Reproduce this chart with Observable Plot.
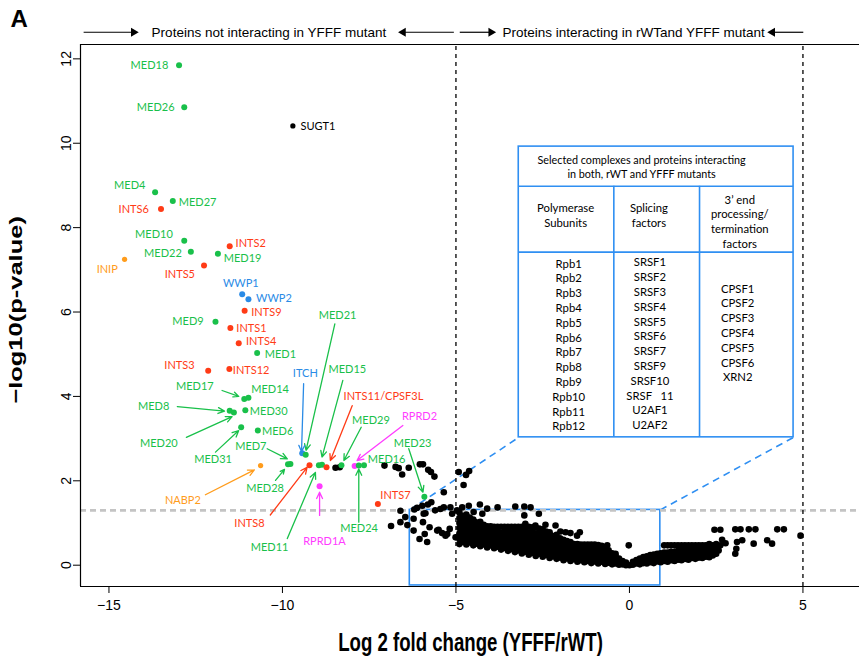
<!DOCTYPE html>
<html><head><meta charset="utf-8">
<script src="https://cdn.jsdelivr.net/npm/d3@7"></script>
<script src="https://cdn.jsdelivr.net/npm/@observablehq/plot@0.6"></script>
<style>body{margin:0;background:#fff}#chart{width:859px;height:657px}</style>
</head><body><div id="chart"></div>
<script>
// ---------- labelled proteins ----------
const proteins = ["MED18","MED26","SUGT1","MED4","MED27","INTS6","MED10","INTS2","MED22","MED19","INIP","INTS5","WWP1","WWP2","INTS9","MED9","INTS1","INTS4","MED1","INTS3","INTS12","MED17","MED14","MED8","MED20","MED30","MED31","MED6","MED28","MED7","NABP2","ITCH","MED21","INTS8","MED11","MED15","INTS11/CPSF3L","MED29","RPRD1A","RPRD2","MED24","MED16","MED23","INTS7"];
const log2FC = [-12.98,-12.83,-9.70,-13.67,-13.16,-13.50,-12.83,-11.52,-12.64,-11.86,-14.55,-12.26,-11.16,-10.98,-11.09,-11.93,-11.50,-11.26,-10.73,-12.14,-11.53,-11.10,-10.98,-11.52,-11.40,-11.07,-11.19,-10.71,-9.84,-9.77,-10.63,-9.43,-9.33,-9.22,-8.95,-8.86,-8.73,-8.30,-8.93,-7.92,-7.80,-7.65,-5.91,-7.25];
const negLog10P = [11.85,10.85,10.41,8.84,8.63,8.44,7.69,7.56,7.43,7.38,7.25,7.10,6.42,6.30,6.03,5.77,5.62,5.26,5.03,4.61,4.65,3.94,3.97,3.66,3.62,3.67,3.27,3.19,2.39,2.40,2.36,2.65,2.62,2.37,2.37,2.38,2.32,2.37,1.87,2.35,2.36,2.37,1.62,1.45];
const complexes = ["Mediator","Mediator","Other","Mediator","Mediator","Integrator","Mediator","Integrator","Mediator","Mediator","SOSS","Integrator","HECT","HECT","Integrator","Mediator","Integrator","Integrator","Mediator","Integrator","Integrator","Mediator","Mediator","Mediator","Mediator","Mediator","Mediator","Mediator","Mediator","Mediator","SOSS","HECT","Mediator","Integrator","Mediator","Mediator","Integrator","Mediator","RPRD","RPRD","Mediator","Mediator","Mediator","Integrator"];
const complexNames = ["Mediator","Integrator","HECT","SOSS","RPRD","Other"];
const complexColors = ["#19c04a","#ff3b16","#2a8be6","#ff9c1c","#ff3cff","#000000"];

// ---------- all other proteins (black) ----------
const otherPoints = [
 [-8.47,2.31],[-8.35,2.32],[-7.06,2.36],[-6.74,2.33],[-6.65,2.30],[-6.55,2.15],[-6.36,2.31],[-6.04,2.39],[-5.95,2.39],[-5.80,2.26],[-5.72,2.21],[-5.62,2.10],[-5.35,1.73],[-4.92,2.21],[-4.71,2.14],[-4.62,2.23],[-4.78,1.90],
 [-6.60,1.29],[-6.87,0.93],[-6.60,1.02],[-6.46,1.14],[-6.20,1.32],[-6.22,1.10],[-6.12,1.36],[-5.97,1.41],[-5.81,1.44],[-5.95,1.02],[-5.90,0.74],[-5.83,0.55],[-5.76,0.90],[-5.93,1.22],[-5.71,1.49],[-5.88,1.23],[-6.22,0.82],[-6.05,0.62],[-6.40,0.95],
 [-5.54,0.82],[-5.50,0.84],[-5.40,0.76],[-5.30,0.70],[-5.25,0.74],[-5.18,0.86],[-5.01,0.66],[-4.87,0.63],[-5.35,1.37],[-5.16,1.37],[-5.11,1.22],[-4.97,1.30],[-4.82,1.37],[-4.63,1.41],[-4.49,1.26],[-4.31,1.44],[-4.24,1.22],[-4.10,1.34],[-3.80,1.37],[-3.29,1.39],[-3.03,1.39],[-2.85,1.37],[-3.03,1.18],[-2.61,1.22],[-3.00,0.98],[-2.71,0.94],[-2.42,0.96],[-2.13,0.94],[-1.99,0.80],[-1.84,0.78],[-1.70,0.76],[-1.43,0.78],[-1.51,0.70],[-2.23,0.66],[-0.64,0.47],[-0.02,0.47],[-0.40,0.27],[-4.58,0.98],[-4.44,1.02],[-4.39,0.82],[-4.29,0.90],[-4.10,0.74],[-4.24,0.59],[-5.60,1.30],[-5.45,1.33],
 [2.45,0.84],[2.62,0.84],[3.05,0.85],[3.20,0.85],[3.44,0.85],[3.63,0.85],[4.26,0.85],[4.45,0.85],[4.93,0.70],[2.67,0.60],[2.77,0.52],[2.62,0.47],[2.57,0.35],[2.45,0.27],[3.10,0.55],[3.25,0.59],[3.08,0.39],[3.05,0.27],[3.58,0.51],[3.97,0.59],[4.11,0.51]
];
// dense cloud read column by column: [log2FC, [-log10 p values]]
const cloudColumns = [
 [-4.9,[0.50,0.62,0.75,0.88,1.00,1.12,1.25]],
 [-4.8,[0.55,0.68,0.80,0.93,1.05,1.17]],
 [-4.7,[0.49,0.61,0.74,0.86,0.98,1.10,1.20]],
 [-4.6,[0.54,0.66,0.79,0.91,1.03,1.13]],
 [-4.5,[0.47,0.59,0.72,0.84,0.96,1.08]],
 [-4.4,[0.51,0.64,0.76,0.88,0.99]],
 [-4.3,[0.45,0.57,0.70,0.82,0.94,1.03]],
 [-4.2,[0.49,0.61,0.74,0.86,0.96]],
 [-4.1,[0.42,0.55,0.68,0.80,0.92]],
 [-4.0,[0.47,0.59,0.72,0.84,0.92]],
 [-3.9,[0.40,0.52,0.65,0.78,0.91]],
 [-3.8,[0.44,0.57,0.70,0.83,0.91]],
 [-3.7,[0.37,0.50,0.63,0.76,0.91]],
 [-3.6,[0.41,0.54,0.67,0.80,0.91]],
 [-3.5,[0.34,0.47,0.60,0.73,0.86,0.91]],
 [-3.4,[0.38,0.51,0.64,0.77,0.91]],
 [-3.3,[0.31,0.44,0.57,0.70,0.83,0.91]],
 [-3.2,[0.35,0.48,0.61,0.74,0.86,0.91]],
 [-3.1,[0.28,0.41,0.54,0.67,0.80,0.91]],
 [-3.0,[0.32,0.45,0.58,0.71,0.84,0.91]],
 [-2.9,[0.25,0.38,0.51,0.64,0.77,0.91]],
 [-2.8,[0.29,0.42,0.55,0.68,0.81,0.90]],
 [-2.7,[0.22,0.35,0.48,0.61,0.74,0.89]],
 [-2.6,[0.27,0.39,0.52,0.65,0.78,0.87]],
 [-2.5,[0.20,0.32,0.45,0.58,0.71,0.85]],
 [-2.4,[0.24,0.36,0.49,0.62,0.75,0.80]],
 [-2.3,[0.17,0.30,0.42,0.55,0.68,0.78]],
 [-2.2,[0.21,0.33,0.45,0.57,0.69]],
 [-2.1,[0.15,0.27,0.39,0.51,0.63,0.72]],
 [-2.0,[0.18,0.30,0.42,0.54,0.64]],
 [-1.9,[0.12,0.24,0.36,0.48,0.60]],
 [-1.8,[0.16,0.28,0.40,0.51,0.57]],
 [-1.7,[0.10,0.22,0.34,0.46,0.55]],
 [-1.6,[0.14,0.26,0.37,0.47,0.50]],
 [-1.5,[0.08,0.20,0.31,0.42,0.50]],
 [-1.4,[0.12,0.23,0.34,0.45,0.49]],
 [-1.3,[0.07,0.18,0.29,0.40,0.49]],
 [-1.2,[0.10,0.21,0.32,0.43,0.49]],
 [-1.1,[0.05,0.16,0.27,0.38,0.49]],
 [-1.0,[0.09,0.20,0.31,0.42,0.49]],
 [-0.9,[0.04,0.14,0.25,0.36,0.48]],
 [-0.8,[0.08,0.18,0.29,0.39,0.46]],
 [-0.7,[0.03,0.12,0.22,0.32,0.42]],
 [-0.6,[0.06,0.15,0.25,0.35]],
 [-0.5,[0.02,0.10,0.19,0.28]],
 [-0.4,[0.04,0.13,0.22]],
 [-0.3,[0.01,0.08,0.16]],
 [-0.2,[0.02,0.10]],
 [-0.1,[0.00,0.06]],
 [0.0,[0.00]],
 [0.1,[0.01,0.08]],
 [0.2,[0.04,0.12]],
 [0.3,[0.02,0.10,0.16]],
 [0.4,[0.05,0.13,0.19]],
 [0.5,[0.04,0.13,0.21]],
 [0.6,[0.07,0.16,0.24]],
 [0.7,[0.05,0.15,0.25]],
 [0.8,[0.09,0.18,0.27]],
 [0.9,[0.07,0.17,0.28]],
 [1.0,[0.10,0.20,0.30,0.47]],
 [1.1,[0.08,0.19,0.30,0.47]],
 [1.2,[0.12,0.22,0.32,0.47]],
 [1.3,[0.10,0.21,0.32,0.47]],
 [1.4,[0.13,0.24,0.34,0.47]],
 [1.5,[0.12,0.23,0.34,0.47]],
 [1.6,[0.15,0.26,0.36,0.47]],
 [1.7,[0.13,0.25,0.36,0.47]],
 [1.8,[0.17,0.27,0.38,0.47]],
 [1.9,[0.15,0.27,0.38,0.47]],
 [2.0,[0.18,0.29,0.40,0.47]],
 [2.1,[0.17,0.29,0.40,0.47]],
 [2.2,[0.20,0.31,0.42,0.47]],
 [2.3,[0.19,0.31,0.43,0.50]],
 [2.4,[0.23,0.35,0.47]],
 [2.5,[0.27,0.38,0.50]]
];

// ---------- annotations ----------
const labelPlacement = [
 ["MED18",-13.29,11.84,"end"],["MED26",-13.11,10.84,"end"],["SUGT1",-9.48,10.39,"start"],["MED4",-13.95,9.00,"end"],
 ["MED27",-12.99,8.59,"start"],["INTS6",-13.85,8.42,"end"],["MED10",-13.16,7.84,"end"],["INTS2",-11.35,7.62,"start"],
 ["MED22",-12.90,7.39,"end"],["MED19",-11.69,7.27,"start"],["INIP",-15.05,7.00,"middle"],["INTS5",-12.52,6.88,"end"],
 ["WWP1",-11.20,6.68,"middle"],["WWP2",-10.76,6.32,"start"],["INTS9",-10.90,6.00,"start"],["MED9",-12.27,5.77,"end"],
 ["INTS1",-11.33,5.62,"start"],["INTS4",-11.05,5.31,"start"],["MED1",-10.51,4.99,"start"],["INTS3",-12.53,4.74,"end"],
 ["INTS12",-11.43,4.61,"start"],["MED21",-8.41,5.92,"middle"],["MED15",-8.13,4.63,"middle"],["ITCH",-9.34,4.55,"middle"],
 ["MED17",-11.98,4.23,"end"],["MED14",-10.90,4.16,"start"],["MED8",-13.26,3.76,"end"],["MED30",-10.94,3.65,"start"],
 ["MED20",-13.02,2.89,"end"],["MED6",-10.59,3.18,"start"],["MED7",-10.46,2.81,"end"],["MED31",-12.00,2.50,"middle"],
 ["NABP2",-12.87,1.53,"middle"],["MED28",-10.50,1.83,"middle"],["INTS11/CPSF3L",-7.09,4.00,"middle"],["MED29",-7.45,3.43,"middle"],
 ["RPRD2",-6.05,3.53,"middle"],["MED16",-7.54,2.50,"start"],["MED23",-6.25,2.89,"middle"],["INTS7",-7.18,1.65,"start"],
 ["MED24",-7.79,0.88,"middle"],["RPRD1A",-8.79,0.56,"middle"],["MED11",-10.37,0.41,"middle"],["INTS8",-10.95,1.00,"middle"]
];
const pointerArrows = [
 ["MED21",-8.49,5.72,-9.32,2.72],["MED15",-8.26,4.38,-8.86,2.56],["ITCH",-9.39,4.30,-9.45,2.69],
 ["INTS11/CPSF3L",-7.99,3.78,-8.62,2.48],["MED29",-7.73,3.27,-8.23,2.48],["RPRD2",-6.53,3.31,-7.85,2.48],
 ["MED23",-6.36,2.76,-5.95,1.73],["MED24",-7.80,1.02,-7.80,2.28],["RPRD1A",-8.93,1.18,-8.93,1.73],
 ["MED11",-9.86,0.63,-9.05,2.20],["INTS8",-10.35,1.19,-9.29,2.32],["MED8",-13.03,3.76,-11.67,3.65],
 ["MED20",-12.77,3.03,-11.45,3.52],["MED17",-11.74,4.14,-11.26,4.00],["MED31",-11.93,2.68,-11.26,3.19],
 ["MED7",-10.44,2.76,-9.86,2.52],["NABP2",-12.22,1.67,-10.81,2.26],["MED28",-10.20,2.01,-9.94,2.27]
];
const tableTitle = ["Selected complexes and proteins interacting","in both, rWT and YFFF mutants"];
const tableHeads = [["Polymerase","Subunits"],["Splicing","factors"],["3\u2019 end","processing/","termination","factors"]];
const polymeraseSubunits = ["Rpb1","Rpb2","Rpb3","Rpb4","Rpb5","Rpb6","Rpb7","Rpb8","Rpb9","Rpb10","Rpb11","Rpb12"];
const splicingFactors = ["SRSF1","SRSF2","SRSF3","SRSF4","SRSF5","SRSF6","SRSF7","SRSF9","SRSF10","SRSF\u00a0\u00a0\u00a011","U2AF1","U2AF2"];
const terminationFactors = ["CPSF1","CPSF2","CPSF3","CPSF4","CPSF5","CPSF6","XRN2"];
const tableEdgesX = [-3.19,-0.45,2.02,4.73];
const tableEdgesY = [9.92,8.98,7.42,3.03];
const zoomBox = {x1:-6.33,x2:0.89,y1:-0.48,y2:1.31};
const headerTexts = [["Proteins not interacting in YFFF mutant",-10.39],["Proteins interacting in rWTand YFFF mutant",0.12]];
const headerArrows = [[-15.73,-14.29],[-5.06,-6.52],[-4.89,-3.99],[5.01,4.12]];
const xTicks = [-15,-10,-5,0,5];
const yTicks = [0,2,4,6,8,10,12];
const pThreshold = 1.3;
const foldBounds = [-5,5];
const xTitle = "Log 2 fold change (YFFF/rWT)";
const yTitle = "\u2212log10(p-value)";

// ---------- build tables ----------
const labelled = proteins.map((p,i)=>({name:p,x:log2FC[i],y:negLog10P[i],group:complexes[i]}));
const byName = new Map(labelled.map(d=>[d.name,d]));
const cloud = [];
for (const [x,ys] of cloudColumns) for (const y of ys) cloud.push({x,y});
for (const [x,y] of otherPoints) cloud.push({x,y});
const labels = labelPlacement.map(([n,x,y,a])=>({name:n,x,y,anchor:a,group:byName.get(n).group}));
const arrows = pointerArrows.map(([n,x1,y1,x2,y2])=>({x1,y1,x2,y2,group:byName.get(n).group}));
const colorOf = g => complexColors[complexNames.indexOf(g)];
const blue = "#2f8ff2";
const labelFont = "Lato, 'Open Sans', sans-serif";
const boldFont = "'Liberation Sans', Arial, sans-serif";
const xDomain=[-15.82,6.63], yDomain=[-0.505,12.34];
const headY = 12.63;

const plot = Plot.plot({
  width: 859, height: 657,
  marginLeft: 80, marginRight: 0, marginTop: 44, marginBottom: 71,
  x: {domain: xDomain}, y: {domain: yDomain},
  style: {fontFamily: "'Liberation Sans', Arial, sans-serif", background: "white"},
  marks: [
    // table
    Plot.rect([{}], {x1: tableEdgesX[0], x2: tableEdgesX[3], y1: tableEdgesY[3], y2: tableEdgesY[0], fill: "white", stroke: blue, strokeWidth: 1.6}),
    Plot.ruleY(tableEdgesY.slice(1,3), {x1: tableEdgesX[0], x2: tableEdgesX[3], stroke: blue, strokeWidth: 1.6}),
    Plot.ruleX(tableEdgesX.slice(1,3), {y1: tableEdgesY[3], y2: tableEdgesY[1], stroke: blue, strokeWidth: 1.6}),
    Plot.text([tableTitle.join("\n")], {x: 0.35, y: 9.44, text: d=>d, fontFamily: labelFont, fontSize: 10.8, lineHeight: 1.3}),
    Plot.text(tableHeads, {x: (d,i)=>[-1.84,0.56,3.18][i], y: (d,i)=> i<2 ? 8.31 : 8.155, text: d=>d.join("\n"), fontFamily: labelFont, fontSize: 11.3, lineHeight: 1.3}),
    Plot.text([polymeraseSubunits, splicingFactors, terminationFactors], {x: (d,i)=>[-1.75,0.59,3.12][i], y: (d,i)=>[7.30,7.33,6.71][i], text: d=>d.join("\n"), lineAnchor: "top", fontFamily: labelFont, fontSize: 11.3, lineHeight: 1.31}),
    // zoom box and connectors
    Plot.rect([zoomBox], {x1:"x1",x2:"x2",y1:"y1",y2:"y2", fill:"none", stroke: blue, strokeWidth: 1.6}),
    Plot.link([{x1:zoomBox.x1,y1:zoomBox.y2,x2:tableEdgesX[0],y2:tableEdgesY[3]},{x1:zoomBox.x2,y1:zoomBox.y2,x2:tableEdgesX[3],y2:tableEdgesY[3]}],
      {x1:"x1",y1:"y1",x2:"x2",y2:"y2", stroke: blue, strokeWidth: 1.6, strokeDasharray: "7,5"}),
    // threshold and fold bounds
    Plot.ruleY([pThreshold], {stroke: "#c4c4c4", strokeWidth: 2.6, strokeDasharray: "6,4"}),
    Plot.ruleX(foldBounds, {y1: yDomain[0], y2: yDomain[1], stroke: "black", strokeWidth: 1.3, strokeDasharray: "4,4"}),
    // frame (left, top, bottom)
    Plot.ruleX([xDomain[0]], {stroke: "black", strokeWidth: 1.2}),
    Plot.ruleY([yDomain[1]], {stroke: "black", strokeWidth: 1.2}),
    Plot.ruleY([yDomain[0]], {stroke: "black", strokeWidth: 1.2}),
    // points
    Plot.dot(cloud, {x:"x", y:"y", r: 3.3, fill: "black"}),
    Plot.dot(labelled, {x:"x", y:"y", r: d => (d.group==="SOSS"||d.group==="Other") ? 2.6 : 3.4, fill: d=>colorOf(d.group)}),
    // pointer arrows
    Plot.arrow(arrows, {x1:"x1",y1:"y1",x2:"x2",y2:"y2", stroke: d=>colorOf(d.group), strokeWidth: 1.3, headLength: 8, headAngle: 50}),
    // labels
    ...["start","middle","end"].map(a => Plot.text(labels.filter(d=>d.anchor===a), {x:"x", y:"y", text:"name", textAnchor: a, fill: d=>colorOf(d.group), fontFamily: labelFont, fontSize: 11})),
    // header
    Plot.text(headerTexts, {x: d=>d[1], y: headY, text: d=>d[0], fontSize: 13.5}),
    Plot.link(headerArrows, {x1: d=>d[0], x2: d=>d[1], y1: headY, y2: headY, stroke: "black", strokeWidth: 1.2}),
    Plot.dot(headerArrows, {x: d=>d[1], y: headY, symbol: "triangle", r: 3.3, rotate: d=> d[1]>d[0] ? 90 : -90, fill: "black", stroke: "none"}),
    // axes
    Plot.axisX({ticks: xTicks, tickSize: 7, tickPadding: 7, fontSize: 14, label: null, tickFormat: d=>d<0?"\u2212"+Math.abs(d):String(d)}),
    Plot.axisY({ticks: yTicks, tickSize: 7, tickPadding: 3, tickRotate: -90, fontSize: 14, label: null}),
    Plot.text([xTitle], {x: -4.58, y: -1.855, textAnchor: "middle", fontWeight: "bold", fontSize: 25, fontFamily: boldFont}),
    Plot.text([yTitle], {x: -17.68, y: 6.05, textAnchor: "middle", rotate: -90, fontWeight: "bold", fontSize: 25.5, fontFamily: boldFont}),
    Plot.text(["A"], {x: -17.59, y: 12.94, textAnchor: "middle", fontWeight: "bold", fontSize: 24})
  ]
});
// condensed look of the axis titles
function squeeze(content, sx, sy) {
  plot.querySelectorAll("text").forEach(t => {
    if (t.textContent !== content) return;
    let tr = t.getAttribute("transform");
    if (!tr) { tr = `translate(${t.getAttribute("x")||0},${t.getAttribute("y")||0})`; t.removeAttribute("x"); t.removeAttribute("y"); }
    t.setAttribute("transform", `${tr} scale(${sx},${sy})`);
  });
}
squeeze(xTitle, 0.745, 1);
squeeze(yTitle, 1, 0.745);
document.getElementById("chart").appendChild(plot);
</script></body></html>
